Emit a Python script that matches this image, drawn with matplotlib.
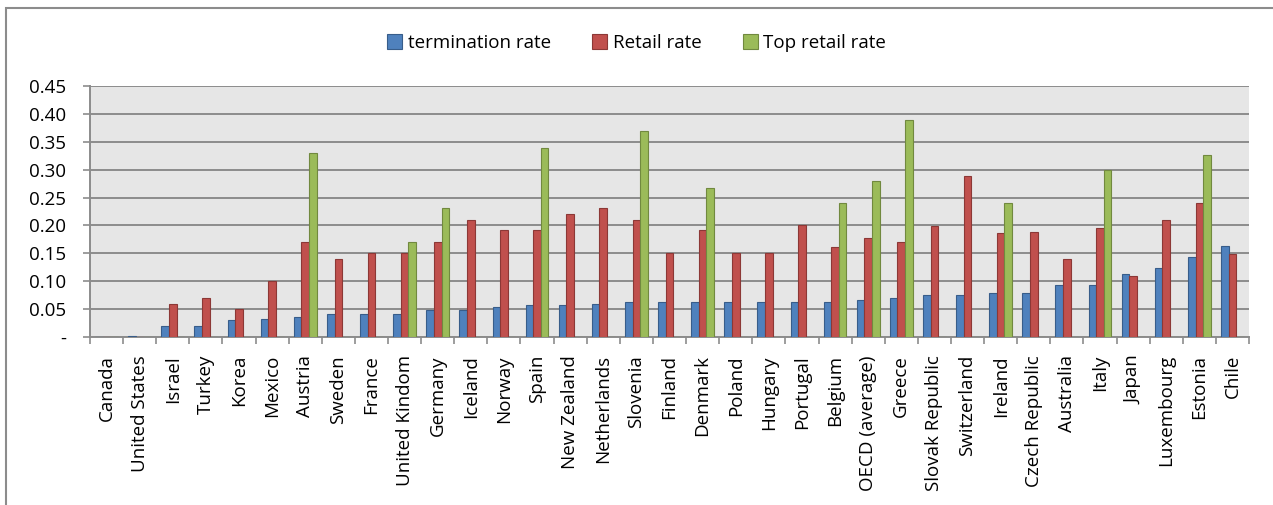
import numpy as np
import matplotlib
matplotlib.use("Agg")
import matplotlib.pyplot as plt
from matplotlib.patches import Rectangle

plt.rcParams['font.family'] = ['Open Sans', 'DejaVu Sans']

countries = ['Canada', 'United States', 'Israel', 'Turkey', 'Korea', 'Mexico', 'Austria',
             'Sweden', 'France', 'United Kindom', 'Germany', 'Iceland', 'Norway', 'Spain',
             'New Zealand', 'Netherlands', 'Slovenia', 'Finland', 'Denmark', 'Poland',
             'Hungary', 'Portugal', 'Belgium', 'OECD (average)', 'Greece', 'Slovak Republic',
             'Switzerland', 'Ireland', 'Czech Republic', 'Australia', 'Italy', 'Japan',
             'Luxembourg', 'Estonia', 'Chile']

termination = [0.0, 0.002, 0.02, 0.02, 0.03, 0.033, 0.036, 0.042, 0.042, 0.042, 0.048,
               0.048, 0.054, 0.057, 0.057, 0.06, 0.063, 0.063, 0.063, 0.063, 0.063, 0.063,
               0.063, 0.066, 0.07, 0.076, 0.076, 0.079, 0.079, 0.094, 0.094, 0.113, 0.124,
               0.143, 0.164]
retail = [0.0, 0.0, 0.06, 0.07, 0.05, 0.10, 0.17, 0.14, 0.15, 0.15, 0.17, 0.21, 0.192,
          0.192, 0.22, 0.232, 0.21, 0.15, 0.192, 0.15, 0.15, 0.20, 0.162, 0.177, 0.17,
          0.199, 0.288, 0.186, 0.189, 0.14, 0.195, 0.109, 0.209, 0.24, 0.149]
top_retail = [0, 0, 0, 0, 0, 0, 0.33, 0, 0, 0.17, 0.232, 0, 0, 0.338, 0, 0, 0.369, 0,
              0.268, 0, 0, 0, 0.241, 0.28, 0.389, 0, 0, 0.241, 0, 0, 0.30, 0, 0, 0.327, 0]

fig = plt.figure(figsize=(12.73, 5.05), dpi=100)
ax = fig.add_axes([90 / 1273, 1 - 337 / 505, (1249 - 90) / 1273, (337 - 86) / 505])

# chart border
fig.patches.append(Rectangle((6 / 1273, -0.01), 1.1, 1 - 8 / 505 + 0.01, transform=fig.transFigure,
                             fill=False, edgecolor='#8c8c8c', linewidth=1.5))

x = np.arange(len(countries))
w = 0.23
ax.bar(x - w, termination, w, color='#4F81BD', edgecolor='#385D8A', linewidth=0.8,
       label='termination rate', zorder=3)
ax.bar(x, retail, w, color='#C0504D', edgecolor='#8C3836', linewidth=0.8,
       label='Retail rate', zorder=3)
ax.bar(x + w, top_retail, w, color='#9BBB59', edgecolor='#71893F', linewidth=0.8,
       label='Top retail rate', zorder=3)

ax.set_facecolor('#e6e6e6')
ax.set_xlim(-0.5, len(countries) - 0.5)
ax.set_ylim(0, 0.45)
yt = np.arange(0, 0.451, 0.05)
ax.set_yticks(yt)
ax.set_yticklabels(['-'] + ['%.2f' % v for v in yt[1:]])
ax.yaxis.grid(True, color='#8c8c8c', linewidth=1.4, zorder=0)

ax.set_xticks(x)
ax.set_xticklabels(countries, rotation=90)
ax.set_xticks(np.arange(-0.5, len(countries), 1), minor=True)
ax.tick_params(axis='x', which='major', length=0, pad=13, labelsize=13.5)
ax.tick_params(axis='x', which='minor', length=5, color='#8c8c8c', width=1.2)
ax.tick_params(axis='y', length=5, color='#8c8c8c', width=1.2, labelsize=13.5, pad=12)

for s in ['top', 'right']:
    ax.spines[s].set_visible(False)
for s in ['left', 'bottom']:
    ax.spines[s].set_color('#8c8c8c')
    ax.spines[s].set_linewidth(1.4)

fig.legend(loc='center', bbox_to_anchor=(0.5, 1 - 43 / 505), ncol=3, frameon=False,
           fontsize=13.5, handlelength=0.8, handleheight=0.8, columnspacing=2.2,
           handletextpad=0.3)

fig.savefig('out.png', dpi=100)
